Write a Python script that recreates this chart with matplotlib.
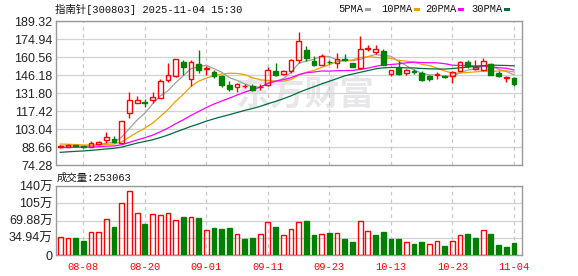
"""
plot.py - K-line chart of 指南针 (300803) with MA lines and volume panel.
Writes out.png (578x276).
"""
import matplotlib
matplotlib.use("Agg")
import matplotlib.pyplot as plt
from matplotlib.patches import Rectangle

# ---- data ----
dates = [
    "08-05", "08-06", "08-07", "08-08", "08-11", "08-12", "08-13", "08-14", "08-15", "08-18",
    "08-19", "08-20", "08-21", "08-22", "08-25", "08-26", "08-27", "08-28", "08-29", "09-01",
    "09-02", "09-03", "09-04", "09-05", "09-08", "09-09", "09-10", "09-11", "09-12", "09-15",
    "09-16", "09-17", "09-18", "09-19", "09-22", "09-23", "09-24", "09-25", "09-26", "09-29",
    "09-30", "10-09", "10-10", "10-13", "10-14", "10-15", "10-16", "10-17", "10-20", "10-21",
    "10-22", "10-23", "10-24", "10-27", "10-28", "10-29", "10-30", "10-31", "11-03", "11-04",
]
opens = [
    88.9, 88.7, 89.9, 89.2, 89.0, 91.0, 94.2, 95.0, 91.8, 115.8,
    123.8, 124.6, 125.9, 127.8, 141.9, 145.0, 156.3, 142.8, 155.2, 151.0,
    148.8, 145.6, 138.4, 136.6, 137.2, 137.4, 136.2, 138.2, 149.1, 147.2,
    149.1, 158.4, 166.4, 157.0, 154.4, 156.6, 155.8, 158.9, 155.8, 151.8,
    167.2, 164.5, 165.0, 146.8, 151.8, 147.8, 149.3, 147.8, 145.6, 145.9,
    145.0, 145.2, 149.6, 156.3, 151.3, 149.9, 155.2, 147.8, 144.0, 143.8,
]
closes = [
    89.1, 90.5, 89.1, 88.6, 91.6, 92.9, 96.6, 92.3, 109.5, 126.0,
    126.6, 124.2, 128.6, 141.6, 146.4, 159.0, 152.3, 156.5, 150.4, 151.4,
    145.4, 138.4, 135.0, 139.0, 137.6, 133.8, 136.6, 150.4, 146.4, 149.1,
    158.4, 173.0, 159.8, 153.9, 161.6, 156.2, 159.0, 158.5, 152.6, 166.9,
    167.6, 166.9, 154.4, 150.0, 146.8, 150.4, 148.8, 142.4, 143.0, 147.0,
    144.6, 148.5, 156.6, 153.6, 152.2, 157.0, 146.0, 145.1, 144.5, 139.0,
]
highs = [
    90.3, 91.0, 90.4, 89.8, 93.1, 93.2, 100.3, 97.1, 109.7, 132.3,
    129.6, 127.0, 132.3, 143.0, 155.8, 159.2, 158.4, 158.4, 166.4, 153.1,
    150.4, 146.4, 141.6, 139.4, 139.2, 139.2, 138.8, 152.5, 155.8, 150.4,
    159.2, 180.2, 169.6, 161.6, 162.6, 158.4, 163.5, 163.0, 156.0, 177.0,
    170.4, 170.4, 166.9, 150.4, 157.0, 150.8, 151.0, 149.4, 146.4, 148.6,
    146.0, 149.2, 157.2, 158.4, 158.4, 159.7, 156.0, 149.2, 145.3, 144.6,
]
lows = [
    88.0, 88.3, 88.6, 88.2, 88.3, 90.6, 91.8, 91.8, 91.5, 111.5,
    123.5, 120.6, 123.8, 127.5, 140.8, 144.8, 146.4, 137.5, 147.5, 146.4,
    143.8, 136.8, 133.1, 132.5, 135.6, 133.0, 134.4, 137.2, 145.6, 146.4,
    147.8, 156.0, 157.0, 153.1, 154.2, 155.0, 151.5, 157.0, 152.2, 151.0,
    165.0, 162.9, 154.2, 145.5, 146.4, 146.4, 147.0, 141.6, 141.6, 143.2,
    143.8, 139.5, 149.4, 151.8, 150.4, 149.6, 145.8, 144.4, 140.5, 137.6,
]
prev_close = 88.5  # close before 08-05 (volume bar of 08-05 is red)

ma5 = [
    89.4, 89.6, 89.5, 89.4, 89.8, 90.5, 91.8, 92.4, 96.6, 103.5,
    110.2, 115.7, 123.0, 129.4, 133.5, 140.0, 145.6, 151.2, 152.9, 153.9,
    151.2, 148.4, 144.1, 141.8, 139.1, 136.8, 136.4, 139.5, 141.0, 143.3,
    148.2, 155.5, 157.3, 158.8, 161.3, 160.9, 158.1, 157.8, 157.6, 158.6,
    160.9, 162.5, 161.7, 161.2, 157.1, 153.7, 150.1, 147.7, 146.3, 146.3,
    145.2, 145.1, 147.9, 150.1, 151.1, 153.6, 153.1, 150.8, 149.0, 146.3,
]
ma10 = [
    91.0, 90.9, 90.6, 90.3, 90.3, 90.4, 90.8, 91.0, 92.8, 96.6,
    100.4, 103.7, 107.7, 113.0, 118.5, 125.1, 130.7, 137.1, 141.2, 143.7,
    145.6, 147.0, 147.6, 147.4, 146.5, 144.0, 142.4, 141.8, 141.4, 141.2,
    142.5, 145.9, 148.4, 149.9, 152.3, 154.5, 156.8, 157.6, 158.2, 160.0,
    160.9, 160.3, 159.8, 159.4, 157.9, 157.3, 156.3, 154.7, 153.7, 151.7,
    149.4, 147.6, 147.8, 148.2, 148.7, 149.4, 149.1, 149.4, 149.5, 148.7,
]
ma20 = [
    88.2, 88.3, 88.4, 88.5, 88.6, 88.9, 89.3, 89.5, 90.5, 92.4,
    94.3, 96.1, 98.1, 100.8, 103.7, 107.2, 110.4, 113.9, 117.0, 120.2,
    123.0, 125.4, 127.7, 130.2, 132.5, 134.5, 136.5, 139.4, 141.3, 142.4,
    144.0, 146.5, 148.0, 148.6, 149.4, 149.3, 149.6, 149.7, 149.8, 150.6,
    151.7, 153.1, 154.1, 154.6, 155.1, 155.9, 156.5, 156.1, 156.0, 155.9,
    155.2, 154.0, 153.8, 153.8, 153.3, 153.3, 152.7, 152.0, 151.6, 150.2,
]
ma30 = [
    84.4, 84.8, 85.2, 85.5, 86.0, 86.5, 87.1, 87.6, 88.6, 90.2,
    91.8, 93.1, 94.4, 96.2, 98.2, 100.6, 102.8, 105.1, 107.1, 109.3,
    111.2, 112.9, 114.5, 116.2, 117.9, 119.4, 121.1, 123.2, 125.1, 127.2,
    129.5, 132.2, 134.6, 136.8, 139.1, 141.2, 143.3, 145.5, 146.9, 148.3,
    149.7, 151.1, 151.9, 152.2, 152.2, 151.9, 151.8, 151.4, 151.1, 151.0,
    150.9, 151.3, 152.0, 152.5, 153.0, 153.7, 154.1, 153.9, 153.8, 153.5,
]
volumes = [  # 万手
    36.4, 34.3, 35.0, 28.9, 46.5, 46.5, 72.7, 57.2, 105.0, 129.3,
    84.8, 63.2, 82.8, 80.8, 84.8, 71.3, 77.4, 76.7, 75.4, 51.1,
    55.2, 53.2, 55.2, 42.4, 32.9, 35.0, 42.4, 66.7, 57.2, 40.4,
    52.5, 66.7, 69.3, 41.0, 42.4, 45.0, 44.3, 32.9, 26.9, 69.3,
    48.5, 41.0, 47.1, 32.9, 32.9, 26.3, 22.8, 26.9, 22.2, 28.3,
    18.8, 28.3, 40.4, 43.0, 35.0, 51.1, 43.0, 20.8, 16.8, 25.3063,
]
last_volume = "253063"

ma_labels = ["5PMA", "10PMA", "20PMA", "30PMA"]
price_ticks = [74.28, 88.66, 103.04, 117.42, 131.80, 146.18, 160.56, 174.94, 189.32]
vol_ticks = [0, 34.94, 69.88, 105, 140]
vol_tick_labels = ["0", "34.94万", "69.88万", "105万", "140万"]
date_ticks = ["08-08", "08-20", "09-01", "09-11", "09-23", "10-13", "10-23", "11-04"]

# ---- style ----
RED = "#ff0000"
GREEN = "#008000"
MA_COLORS = ["#a0a0a0", "#f0a000", "#ff00ff", "#006d3c"]
GRID = "#d2d2d2"
SPINE = "#9a9a9a"
MONO = ["Liberation Mono", "Noto Sans CJK SC"]
SANS = ["Liberation Sans", "Noto Sans CJK SC"]

W, H = 578, 276


def fx(px):
    return px / W


def fy(py):
    return 1 - py / H


def style_axes(ax, xs):
    for s in ax.spines.values():
        s.set_color(SPINE)
        s.set_linewidth(1.0)
    ax.tick_params(length=0, pad=2.5, labelsize=9, labelcolor="#222222")
    for lab in ax.get_yticklabels():
        lab.set_family(SANS)
    ax.grid(axis="y", color=GRID, linewidth=0.9)
    for t in xs:
        ax.axvline(t, color="#c8c8c8", linewidth=0.9, linestyle=(0, (3, 3)), zorder=0.6)
    ax.set_axisbelow(True)


def main():
    n = len(dates)
    x = list(range(n))
    tick_pos = [dates.index(d) for d in date_ticks]
    bw = 0.62

    fig = plt.figure(figsize=(W / 100, H / 100), dpi=100)
    fig.patch.set_facecolor("white")
    ax = fig.add_axes([fx(56), fy(165), fx(522) - fx(56), (165 - 21) / H])
    axv = fig.add_axes([fx(56), fy(255), fx(522) - fx(56), (255 - 186) / H])

    # watermark
    ax.text(fx(236), fy(94), "东方财富", transform=fig.transFigure, fontsize=25,
            family=["Noto Sans CJK SC"], fontweight="bold", color="#e7e7ea",
            va="center", ha="left", zorder=0.4)

    # candles
    for i in x:
        o, c, h, l = opens[i], closes[i], highs[i], lows[i]
        top, bot = max(o, c), min(o, c)
        if c >= o:
            ax.vlines(i, top, h, color=RED, linewidth=1.0, zorder=3)
            ax.vlines(i, l, bot, color=RED, linewidth=1.0, zorder=3)
            ax.add_patch(Rectangle((i - bw / 2, bot), bw, max(top - bot, 0.05),
                                   facecolor="none", edgecolor=RED, linewidth=1.0, zorder=3))
        else:
            ax.vlines(i, l, h, color=GREEN, linewidth=1.0, zorder=3)
            ax.add_patch(Rectangle((i - bw / 2, bot), bw, max(top - bot, 0.05),
                                   facecolor=GREEN, edgecolor=GREEN, linewidth=1.0, zorder=3))

    for vals, col in zip([ma5, ma10, ma20, ma30], MA_COLORS):
        ax.plot(x, vals, color=col, linewidth=0.9, zorder=2.5)

    ax.set_xlim(-0.55, n + 0.05)
    ax.set_ylim(price_ticks[0], price_ticks[-1])
    ax.set_yticks(price_ticks)
    ax.set_yticklabels([f"{t:.2f}" for t in price_ticks])
    ax.set_xticks(tick_pos)
    ax.set_xticklabels([])
    style_axes(ax, tick_pos)

    # volume
    prev = [prev_close] + closes[:-1]
    for i in x:
        if closes[i] >= prev[i]:
            axv.add_patch(Rectangle((i - bw / 2, 0), bw, volumes[i], facecolor="none",
                                    edgecolor=RED, linewidth=1.0, zorder=3))
        else:
            axv.add_patch(Rectangle((i - bw / 2, 0), bw, volumes[i], facecolor=GREEN,
                                    edgecolor=GREEN, linewidth=1.0, zorder=3))
    axv.set_xlim(-0.55, n + 0.05)
    axv.set_ylim(0, 140)
    axv.set_yticks(vol_ticks)
    axv.set_yticklabels(vol_tick_labels)
    axv.set_xticks(tick_pos)
    axv.set_xticklabels(date_ticks)
    style_axes(axv, tick_pos)
    axv.tick_params(axis="x", pad=5, labelcolor=RED, labelsize=7.5)
    for lab in axv.get_xticklabels():
        lab.set_family(MONO)

    # header texts
    fig.text(fx(55), fy(9.5), "指南针[300803] 2025-11-04 15:30", family=MONO,
             fontsize=7.5, color="#111111", va="center", ha="left")
    fig.text(fx(57), fy(178), f"成交量:{last_volume}", family=MONO,
             fontsize=7.5, color="#111111", va="center", ha="left")

    # legend
    lx = [338, 381, 425, 471]
    for lab, col, px in zip(ma_labels, MA_COLORS, lx):
        t = fig.text(fx(px), fy(9.5), lab, family=MONO, fontsize=7.5,
                     color="#111111", va="center", ha="left")
        sx = px + len(lab) * 6.25 + 2
        fig.patches.append(Rectangle((fx(sx), fy(10.8)), 6 / W, 2.6 / H,
                                     transform=fig.transFigure, facecolor=col,
                                     edgecolor="none"))

    fig.savefig("out.png", dpi=100)


if __name__ == "__main__":
    main()
